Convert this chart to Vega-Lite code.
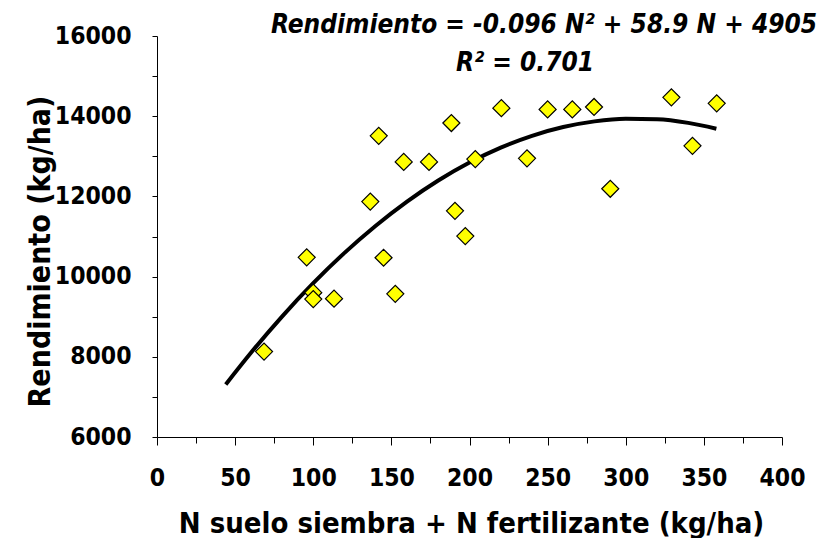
{
  "$schema": "https://vega.github.io/schema/vega-lite/v6.json",
  "width": 625,
  "height": 401,
  "autosize": {"type": "none"},
  "padding": {"left": 157, "top": 36, "right": 38, "bottom": 101},
  "background": "white",
  "config": {"view": {"stroke": null}, "font": "DejaVu Sans Condensed"},
  "datasets": {
    "obs": [
      {"N": 68.5, "R": 8130}, {"N": 95.8, "R": 10480}, {"N": 100, "R": 9600}, {"N": 100, "R": 9440},
      {"N": 113.3, "R": 9450}, {"N": 136.5, "R": 11870}, {"N": 141.9, "R": 13510}, {"N": 145, "R": 10470},
      {"N": 152.5, "R": 9570}, {"N": 157.9, "R": 12860}, {"N": 174.1, "R": 12860}, {"N": 188.4, "R": 13830},
      {"N": 190.7, "R": 11640}, {"N": 197.3, "R": 11010}, {"N": 203.7, "R": 12930}, {"N": 220.4, "R": 14200},
      {"N": 236.8, "R": 12950}, {"N": 250, "R": 14170}, {"N": 265.8, "R": 14170}, {"N": 279.7, "R": 14230},
      {"N": 290.1, "R": 12190}, {"N": 329.2, "R": 14470}, {"N": 342.7, "R": 13260}, {"N": 358.2, "R": 14320}
    ],
    "fit": [
      {"N": 44, "R": 7310}, {"N": 60, "R": 8093}, {"N": 80, "R": 9003}, {"N": 100, "R": 9835},
      {"N": 120, "R": 10591}, {"N": 140, "R": 11269}, {"N": 160, "R": 11871}, {"N": 180, "R": 12397},
      {"N": 200, "R": 12845}, {"N": 220, "R": 13217}, {"N": 240, "R": 13511}, {"N": 260, "R": 13729},
      {"N": 280, "R": 13871}, {"N": 300, "R": 13935}, {"N": 320, "R": 13923}, {"N": 340, "R": 13833},
      {"N": 358, "R": 13688}
    ],
    "ann": [
      {"N": 247.7, "R": 16067, "label": "Rendimiento = -0.096 N²  + 58.9 N + 4905"},
      {"N": 235.5, "R": 15135, "label": "R²  = 0.701"}
    ]
  },
  "encoding": {
    "x": {
      "field": "N", "type": "quantitative",
      "scale": {"domain": [0, 400], "nice": false, "zero": false},
      "axis": {
        "values": [0, 25, 50, 75, 100, 125, 150, 175, 200, 225, 250, 275, 300, 325, 350, 375, 400],
        "format": "d",
        "labelExpr": "datum.value % 50 === 0 ? datum.label : ''",
        "tickSize": {"condition": {"test": "datum.value % 50 === 0", "value": 8}, "value": 6},
        "labelPadding": 21,
        "labelFontSize": 24.5, "labelFontWeight": "bold", "labelColor": "black",
        "labelFlush": false, "labelOverlap": false,
        "domainColor": "black", "tickColor": "black", "domainWidth": 1, "tickWidth": 1,
        "grid": false,
        "title": "N suelo siembra + N fertilizante (kg/ha)",
        "titleFontSize": 29, "titleFontWeight": "bold", "titleColor": "black",
        "titleX": 314, "titleY": 95, "titleBaseline": "alphabetic", "titleAlign": "center"
      }
    },
    "y": {
      "field": "R", "type": "quantitative",
      "scale": {"domain": [6000, 16000], "nice": false, "zero": false},
      "axis": {
        "values": [6000, 7000, 8000, 9000, 10000, 11000, 12000, 13000, 14000, 15000, 16000],
        "format": "d",
        "labelExpr": "datum.value % 2000 === 0 ? datum.label : ''",
        "tickSize": 5,
        "labelPadding": 21,
        "labelFontSize": 24.5, "labelFontWeight": "bold", "labelColor": "black",
        "labelFlush": false, "labelOverlap": false, "labelBaseline": "middle",
        "domainColor": "black", "tickColor": "black", "domainWidth": 1, "tickWidth": 1,
        "grid": false,
        "title": "Rendimiento (kg/ha)",
        "titleFontSize": 30, "titleFontWeight": "bold", "titleColor": "black",
        "titleX": -108, "titleY": 215, "titleAngle": 270, "titleBaseline": "alphabetic", "titleAlign": "center"
      }
    }
  },
  "layer": [
    {
      "data": {"name": "fit"},
      "mark": {"type": "line", "color": "black", "strokeWidth": 4, "interpolate": "monotone"}
    },
    {
      "data": {"name": "obs"},
      "mark": {"type": "point", "shape": "diamond", "filled": true, "fill": "#FFFF00", "stroke": "black", "strokeWidth": 1.2, "size": 290, "opacity": 1}
    },
    {
      "data": {"name": "ann"},
      "mark": {"type": "text", "fontWeight": "bold", "fontStyle": "italic", "fontSize": 26, "align": "center", "baseline": "alphabetic", "color": "black"},
      "encoding": {"text": {"field": "label"}}
    }
  ]
}
